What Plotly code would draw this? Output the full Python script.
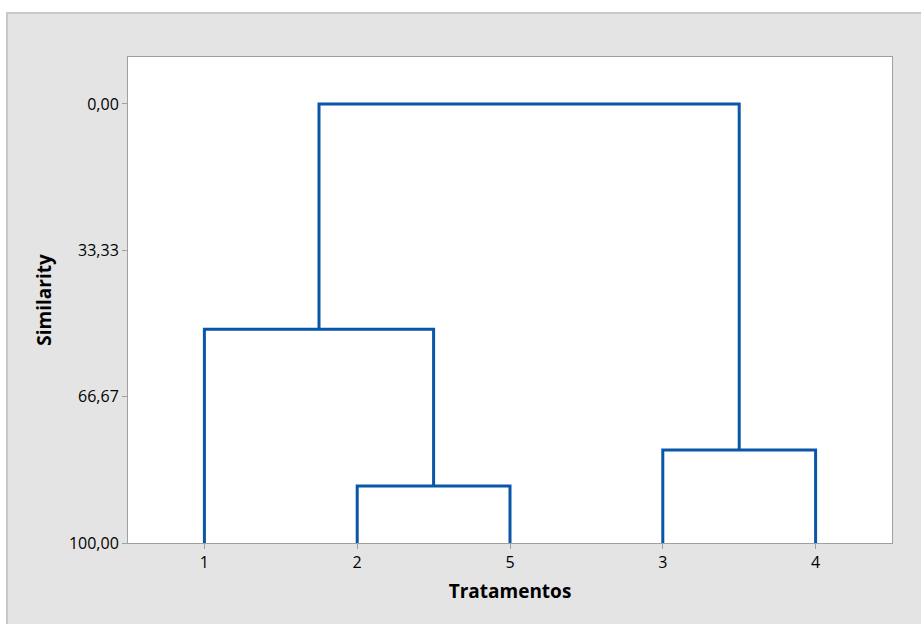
import plotly.graph_objects as go

# Data
leaf_labels = ["1", "2", "5", "3", "4"]
merge_left = ["2", "3", "1", "1-2-5"]
merge_right = ["5", "4", "2-5", "3-4"]
merge_height = [87.0, 78.8, 51.3, 0.0]
y_tickvals = [0, 33.33, 66.67, 100]
y_ticktext = ["0,00", "33,33", "66,67", "100,00"]

pos = {lab: i for i, lab in enumerate(leaf_labels)}
hgt = {lab: 100.0 for lab in leaf_labels}
xs, ys = [], []
for a, b, h in zip(merge_left, merge_right, merge_height):
    xs += [pos[a], pos[a], pos[b], pos[b], None]
    ys += [hgt[a], h, h, hgt[b], None]
    name = a + "-" + b
    pos[name] = (pos[a] + pos[b]) / 2
    hgt[name] = h

fig = go.Figure()
fig.add_trace(go.Scatter(x=xs, y=ys, mode="lines",
                         line=dict(color="#0a56a8", width=3),
                         hoverinfo="skip", showlegend=False))

W, H = 921, 624
ml, mt, mr, mb = 128, 57, 29, 81
pw, ph = W - ml - mr, H - mt - mb

def px_x(p):
    return (p - ml) / pw

def px_y(p):
    return (H - mb - p) / ph

fig.update_layout(
    width=W, height=H,
    margin=dict(l=ml, r=mr, t=mt, b=mb),
    paper_bgcolor="white",
    plot_bgcolor="white",
    font=dict(family="Open Sans", color="#000000", size=16),
    shapes=[
        dict(type="rect", xref="paper", yref="paper",
             x0=px_x(7), x1=px_x(930), y0=px_y(640), y1=px_y(13),
             fillcolor="#e4e4e4", line=dict(color="#c8c8c8", width=2), layer="below"),
        dict(type="rect", xref="paper", yref="paper",
             x0=0, x1=1, y0=0, y1=1,
             fillcolor="white", line=dict(width=0), layer="below"),
    ],
    xaxis=dict(
        range=[-0.5, 4.5],
        tickvals=list(range(len(leaf_labels))), ticktext=leaf_labels,
        ticks="outside", ticklen=5, tickcolor="#a0a0a0", tickwidth=1,
        showline=True, linecolor="#a0a0a0", linewidth=1, mirror=True,
        showgrid=False, zeroline=False,
        title=dict(text="<b>Tratamentos</b>", font=dict(size=19), standoff=12),
    ),
    yaxis=dict(
        range=[100, -10.7],
        tickvals=y_tickvals, ticktext=y_ticktext,
        ticks="outside", ticklen=5, tickcolor="#a0a0a0", tickwidth=1,
        showline=True, linecolor="#a0a0a0", linewidth=1, mirror=True,
        showgrid=False, zeroline=False,
        title=dict(text="<b>Similarity</b>", font=dict(size=19), standoff=12),
    ),
)

fig.write_html("out.html", config={"displayModeBar": False},
               post_script="document.body.style.margin='0';document.body.style.overflow='hidden';")
